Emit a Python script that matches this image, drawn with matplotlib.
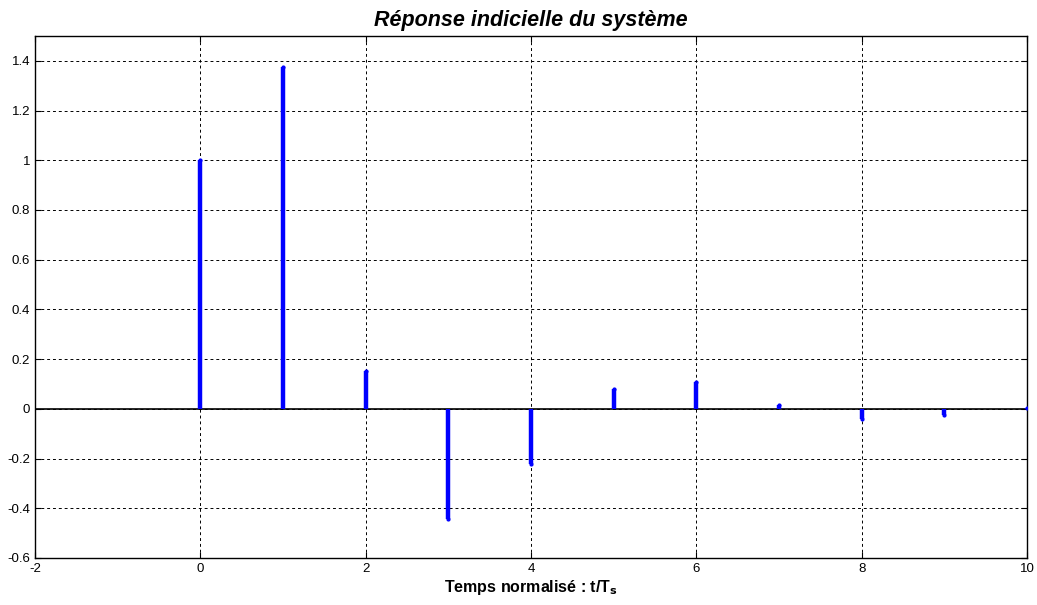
import numpy as np
import matplotlib
matplotlib.use("Agg")
import matplotlib.pyplot as plt

plt.rcParams['font.family'] = ['Liberation Sans', 'DejaVu Sans']
plt.rcParams['axes.unicode_minus'] = False

# Réponse indicielle échantillonnée
n = [0, 1, 2, 3, 4, 5, 6, 7, 8, 9, 10]
y = [1.0, 1.375, 0.153, -0.443, -0.222, 0.08, 0.109, 0.016, -0.04, -0.024, 0.004]
yticks = [-0.6, -0.4, -0.2, 0, 0.2, 0.4, 0.6, 0.8, 1, 1.2, 1.4]

fig = plt.figure(figsize=(10.37, 6.05), dpi=100)
ax = fig.add_axes([0.0338, 0.0777, 0.9566, 0.8628])

ax.vlines(n, 0, y, colors='#0000ff', linewidth=3.2, zorder=3)
ax.plot(n, y, linestyle='none', marker='.', markersize=4, color='#0000ff', zorder=3)
ax.axhline(0, color='black', linewidth=1.2, zorder=2)

ax.set_xlim(-2, 10)
ax.set_ylim(-0.6, 1.5)
ax.set_xticks(np.arange(-2, 11, 2))
ax.set_yticks(yticks)
ax.set_yticklabels([f"{v:g}" for v in yticks])
ax.grid(True, color='black', linestyle=(0, (3, 3)), linewidth=0.7)
ax.tick_params(direction='in', labelsize=9.5, top=True, right=True, length=4)
for s in ax.spines.values():
    s.set_linewidth(1.0)

ax.set_title('Réponse indicielle du système', fontsize=15.5, fontweight='bold',
             fontstyle='italic', pad=7)
ax.set_xlabel(r'Temps normalisé : t/T$_\mathbf{s}$', fontsize=11.5, fontweight='bold',
              labelpad=2)

fig.savefig('out.png', dpi=100)
